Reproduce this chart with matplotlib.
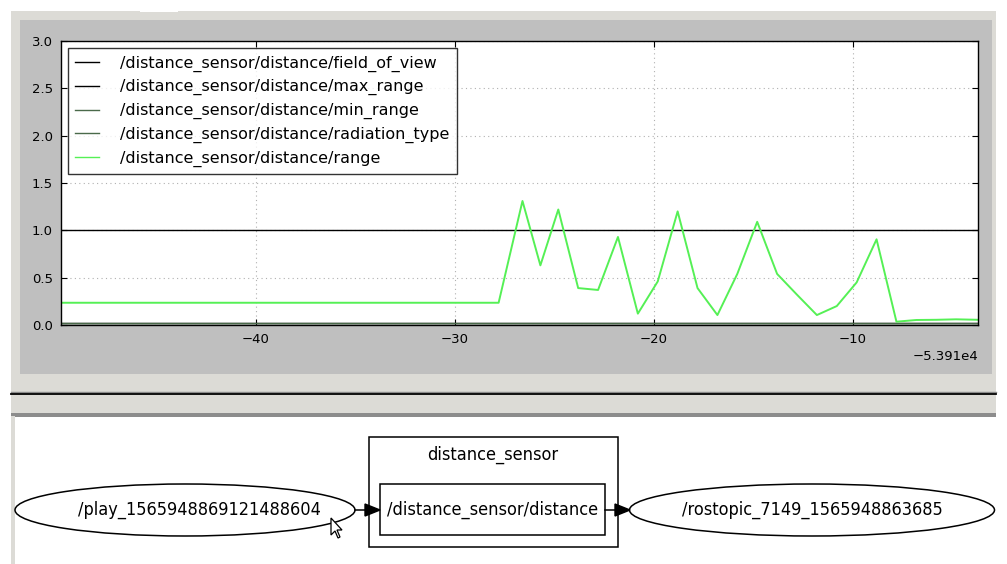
import matplotlib
matplotlib.use('Agg')
import matplotlib.pyplot as plt
import matplotlib.ticker as mt
from matplotlib.patches import Rectangle, Ellipse, Polygon

W, H = 1007, 564

# ---- data ----
time_offset = -53910.0
x_ticks = [-40, -30, -20, -10]
y_ticks = [0.0, 0.5, 1.0, 1.5, 2.0, 2.5, 3.0]
x_limits = (-49.8, -3.7)
y_limits = (0.0, 3.0)

series_names = ["/distance_sensor/distance/field_of_view",
                "/distance_sensor/distance/max_range",
                "/distance_sensor/distance/min_range",
                "/distance_sensor/distance/radiation_type",
                "/distance_sensor/distance/range"]
series_colors = ["#000000", "#000000", "#4a6a4a", "#4a6a4a", "#55f055"]

const_t = [-49.8, -3.7]
field_of_view = [0.02, 0.02]
max_range = [1.0, 1.0]
min_range = [0.02, 0.02]
radiation_type = [0.0, 0.0]

range_t = [-49.8, -27.8, -26.6, -25.7, -24.8, -23.8, -22.8, -21.8, -20.8, -19.8,
           -18.8, -17.8, -16.8, -15.8, -14.8, -13.8, -12.8, -11.8, -10.8, -9.8,
           -8.8, -7.8, -6.8, -5.8, -4.8, -3.7]
range_v = [0.235, 0.235, 1.31, 0.63, 1.22, 0.39, 0.37, 0.93, 0.12, 0.46,
           1.2, 0.39, 0.105, 0.54, 1.09, 0.54, 0.32, 0.105, 0.2, 0.45,
           0.905, 0.035, 0.053, 0.055, 0.06, 0.055]

node_left = "/play_1565948869121488604"
cluster_label = "distance_sensor"
topic_label = "/distance_sensor/distance"
node_right = "/rostopic_7149_1565948863685"

# ---- figure ----
fig = plt.figure(figsize=(W / 100, H / 100), dpi=100, facecolor="white")

bg = fig.add_axes([0, 0, 1, 1], zorder=0)
bg.set_xlim(0, W)
bg.set_ylim(H, 0)
bg.axis("off")

LG = "#dcdbd6"
bg.add_patch(Rectangle((11, 11), 985, 402, facecolor=LG, edgecolor="none"))
bg.add_patch(Rectangle((140, 9), 38, 3, facecolor="white", edgecolor="none"))
bg.add_patch(Rectangle((20, 20), 972, 354, facecolor="#bfbfbf", edgecolor="none"))
bg.plot([11, 996], [392, 392], color="#8a8a8a", lw=1)
bg.plot([11, 996], [393.5, 393.5], color="black", lw=1.3)
bg.add_patch(Rectangle((11, 413), 985, 3.5, facecolor="#8c8c8c", edgecolor="none"))
bg.add_patch(Rectangle((11, 416), 3.5, 148, facecolor=LG, edgecolor="none"))

# ---- graph ----
gfont = dict(family="DejaVu Sans", stretch="condensed", fontsize=13, color="black")
cy = 510
bg.add_patch(Ellipse((185, cy), 340, 52, facecolor="white", edgecolor="black", lw=1.1))
bg.text(199, cy, node_left, ha="center", va="center", **gfont)
bg.add_patch(Rectangle((369, 437), 249, 110, facecolor="white", edgecolor="black", lw=1.1))
bg.text(493, 455, cluster_label, ha="center", va="center", **gfont)
bg.add_patch(Rectangle((380, 484), 225, 51, facecolor="white", edgecolor="black", lw=1.1))
bg.text(492.5, cy, topic_label, ha="center", va="center", **gfont)
bg.add_patch(Ellipse((812, cy), 365, 52, facecolor="white", edgecolor="black", lw=1.1))
bg.text(812, cy, node_right, ha="center", va="center", **gfont)
for x0, x1 in [(355, 380), (605, 630)]:
    bg.plot([x0, x1 - 12], [cy, cy], color="black", lw=1.1)
    bg.add_patch(Polygon([(x1 - 15, cy - 6), (x1, cy), (x1 - 15, cy + 6)],
                         closed=True, facecolor="black", edgecolor="black"))
bg.add_patch(Polygon([(331, 518), (331, 535), (335, 531), (338, 538), (340, 537),
                      (337, 530), (342, 530)], closed=True,
                     facecolor="white", edgecolor="black", lw=0.9, zorder=5))

# ---- plot axes ----
L, R, T, B = 61, 978, 41, 325
ax = fig.add_axes([L / W, 1 - B / H, (R - L) / W, (B - T) / H], zorder=2)
ax.set_facecolor("white")

data = [(const_t, field_of_view), (const_t, max_range), (const_t, min_range),
        (const_t, radiation_type), (range_t, range_v)]
widths = [1.0, 1.0, 1.0, 1.0, 1.4]
for (tx, vy), name, col, lw in zip(data, series_names, series_colors, widths):
    ax.plot([time_offset + t for t in tx], vy, color=col, lw=lw, label=name)

ax.set_xlim(time_offset + x_limits[0], time_offset + x_limits[1])
ax.set_ylim(*y_limits)
ax.set_xticks([time_offset + t for t in x_ticks])
ax.set_yticks(y_ticks)
ax.grid(True, color="#b0b0b0", linestyle=(0, (1, 3)), lw=0.8)
ax.tick_params(direction="in", top=True, right=True, labelsize=9.5, length=4, pad=6)
for s in ax.spines.values():
    s.set_linewidth(1.0)

fmt = mt.ScalarFormatter(useOffset=time_offset)
ax.xaxis.set_major_formatter(fmt)
ax.xaxis.get_offset_text().set_fontsize(9.5)

leg = ax.legend(loc="upper left", fontsize=11.5, frameon=True, fancybox=False,
                borderpad=0.45, labelspacing=0.48, handlelength=1.45,
                handletextpad=1.35, borderaxespad=0.45)
leg.get_frame().set_edgecolor("black")
leg.get_frame().set_linewidth(1.0)
for h in leg.get_lines():
    h.set_linewidth(1.0)

fig.savefig("out.png", dpi=100, facecolor="white")
